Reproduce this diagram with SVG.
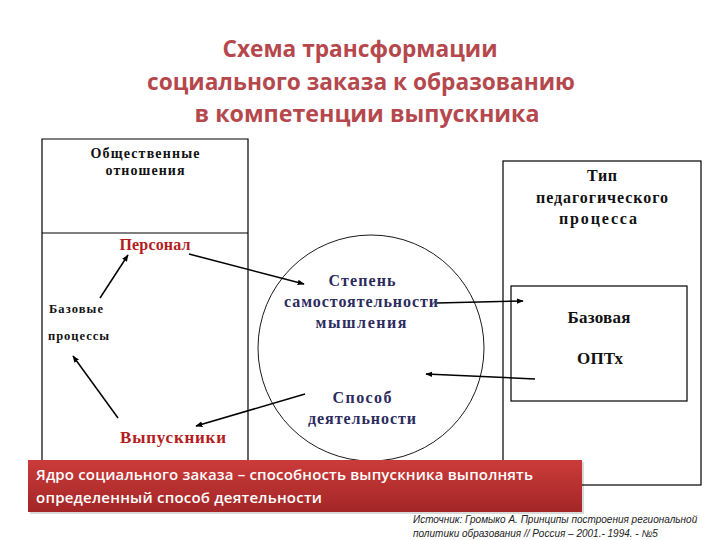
<svg xmlns="http://www.w3.org/2000/svg" width="720" height="540" viewBox="0 0 720 540">
<defs>
<marker id="ah" viewBox="0 0 10 10" refX="9" refY="5" markerWidth="7" markerHeight="7" markerUnits="userSpaceOnUse" orient="auto"><path d="M0,1 L10,5 L0,9 z" fill="#000"/></marker>
<linearGradient id="bg" x1="0" y1="0" x2="0" y2="1"><stop offset="0" stop-color="#cc3b3b"/><stop offset="1" stop-color="#a32626"/></linearGradient>
</defs>
<style>
.box{fill:none;stroke:#000;stroke-width:1.2}
.t{font-family:"Liberation Serif","Times New Roman","DejaVu Serif",serif;font-weight:bold;fill:#111;text-anchor:middle}
.red{fill:#b31d1d}
.navy{fill:#2b2b5e}
.title{font-family:"Open Sans","Noto Sans",sans-serif;font-weight:700;fill:#b5484d;text-anchor:middle;font-size:22.5px}
.ban{font-family:"Open Sans","Noto Sans",sans-serif;font-weight:600;fill:#fff;font-size:15px}
.src{font-family:"Liberation Sans",sans-serif;font-style:italic;font-size:10px;fill:#222}
.c{fill:none;stroke:#000;stroke-width:1.5;marker-end:url(#ah)}
</style>
<rect width="720" height="540" fill="#fff"/>
<g id="title">
<text class="title" x="360" y="57" textLength="275" lengthAdjust="spacingAndGlyphs">Схема трансформации</text>
<text class="title" x="361" y="90" textLength="428" lengthAdjust="spacingAndGlyphs">социального заказа к образованию</text>
<text class="title" x="367" y="122" textLength="345" lengthAdjust="spacingAndGlyphs">в компетенции выпускника</text>
</g>
<g id="left-box">
<path class="box" d="M42,460 V139 H248 V460 M42,233 H248"/>
<text class="t" x="145" y="158" font-size="14" textLength="109">Общественные</text>
<text class="t" x="145" y="175" font-size="14" textLength="79">отношения</text>
</g>
<g id="right-box">
<rect class="box" x="503" y="161" width="198" height="324"/>
<text class="t" x="602" y="181" font-size="16" textLength="30">Тип</text>
<text class="t" x="602" y="203" font-size="16" textLength="132">педагогического</text>
<text class="t" x="598" y="224" font-size="16" textLength="78">процесса</text>
</g>
<g id="inner-box">
<rect class="box" x="511" y="286" width="176" height="115"/>
<text class="t" x="599" y="323" font-size="17" textLength="63">Базовая</text>
<text class="t" x="600" y="364" font-size="17" textLength="46">ОПТх</text>
</g>
<g id="circle">
<circle cx="371" cy="348" r="113" fill="none" stroke="#000" stroke-width="0.9"/>
<text class="t navy" x="362" y="286" font-size="16" textLength="67">Степень</text>
<text class="t navy" x="361" y="307" font-size="16" textLength="154">самостоятельности</text>
<text class="t navy" x="361" y="328" font-size="16" textLength="91">мышления</text>
<text class="t navy" x="362" y="403" font-size="16" textLength="59">Способ</text>
<text class="t navy" x="362" y="424" font-size="16" textLength="108">деятельности</text>
</g>
<g id="personal"><text class="t red" x="155" y="250" font-size="16" textLength="71">Персонал</text></g>
<g id="graduates"><text class="t red" x="173" y="443" font-size="17" textLength="106">Выпускники</text></g>
<g id="base-processes">
<text class="t" x="49" y="313" font-size="12.5" textLength="54" style="text-anchor:start">Базовые</text>
<text class="t" x="48" y="340" font-size="12.5" textLength="61" style="text-anchor:start">процессы</text>
</g>
<g id="connectors">
<line class="c" x1="100" y1="298" x2="128" y2="255"/>
<line class="c" x1="189" y1="254" x2="304" y2="284"/>
<line class="c" x1="437" y1="303" x2="523" y2="301"/>
<line class="c" x1="535" y1="379" x2="426" y2="374"/>
<line class="c" x1="305" y1="394" x2="196" y2="426"/>
<line class="c" x1="118" y1="418" x2="73" y2="356"/>
</g>
<g id="banner">
<rect x="30" y="462" width="554" height="52" fill="#000" opacity="0.15"/>
<rect x="28" y="460" width="554" height="52" fill="url(#bg)"/>
<text class="ban" x="36" y="480" textLength="497">Ядро социального заказа – способность выпускника выполнять</text>
<text class="ban" x="36" y="503" textLength="286">определенный способ деятельности</text>
</g>
<g id="source">
<text class="src" x="413" y="523">Источник:  Громыко А. Принципы построения региональной</text>
<text class="src" x="413" y="537">политики образования // Россия – 2001.- 1994. - №5</text>
</g>
</svg>
